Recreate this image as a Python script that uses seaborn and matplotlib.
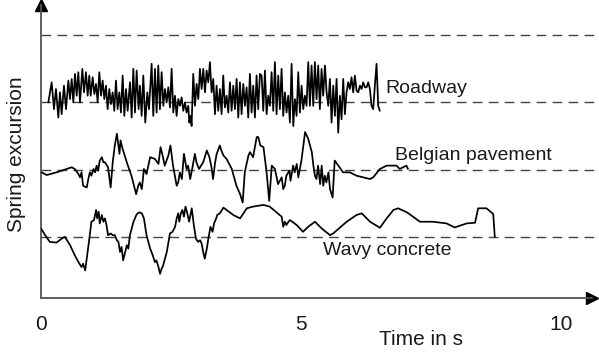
import numpy as np
import pandas as pd
import matplotlib
matplotlib.use("Agg")
import matplotlib.pyplot as plt
import seaborn as sns

# ---------------- data ----------------
# baselines (dashed reference levels) of each trace
baselines = {"Wavy concrete": 200, "Belgian pavement": 400, "Roadway": 600, "top": 800}

road_t = [0.141, 0.205, 0.250, 0.288, 0.333, 0.365, 0.397, 0.442, 0.481, 0.526, 0.558, 0.590,
          0.622, 0.654, 0.686, 0.718, 0.750, 0.795, 0.827, 0.865, 0.897, 0.929, 0.955, 0.994,
          1.026, 1.058, 1.090, 1.122, 1.154, 1.186, 1.218, 1.250, 1.282, 1.314, 1.346, 1.378,
          1.410, 1.442, 1.474, 1.506, 1.538, 1.571, 1.603, 1.635, 1.667, 1.712, 1.744, 1.776,
          1.808, 1.840, 1.878, 1.904, 1.936, 1.968, 2.006, 2.045, 2.077,
          2.128, 2.160, 2.192, 2.224, 2.256, 2.288, 2.321, 2.353, 2.385, 2.417, 2.449, 2.481,
          2.513, 2.545, 2.577, 2.609, 2.641, 2.673, 2.705, 2.737, 2.769, 2.801, 2.833, 2.853,
          2.878, 2.897, 2.929, 2.962, 2.994, 3.026, 3.058, 3.090, 3.122, 3.154, 3.186, 3.218,
          3.250, 3.282, 3.314, 3.346, 3.378, 3.410, 3.442, 3.474, 3.506, 3.538, 3.571, 3.603,
          3.635, 3.667, 3.699, 3.731, 3.763, 3.795, 3.827, 3.859, 3.891, 3.923, 3.955, 3.987,
          4.019, 4.051, 4.083, 4.115, 4.147, 4.179, 4.212,
          4.244, 4.276, 4.308, 4.340, 4.372, 4.404, 4.436, 4.468, 4.500, 4.532, 4.564, 4.596,
          4.628, 4.660, 4.692, 4.724, 4.756, 4.788, 4.821, 4.853, 4.885, 4.917, 4.949, 4.981,
          5.013, 5.045, 5.077, 5.109, 5.141, 5.173, 5.205, 5.237, 5.269, 5.301, 5.333, 5.365,
          5.397, 5.429, 5.462, 5.494, 5.526, 5.558, 5.590, 5.622, 5.654, 5.686, 5.718, 5.750,
          5.782, 5.814, 5.846, 5.878, 5.910, 5.942, 5.974, 6.006, 6.038, 6.071, 6.103, 6.135,
          6.167, 6.199, 6.231, 6.263, 6.295, 6.327, 6.359, 6.391, 6.423, 6.455, 6.487, 6.519]
road_v = [0, 60, -20, 40, -45, 30, -35, 50, -20, 65, 10, 70,
          0, 85, 20, 90, 0, 100, 30, 90, 20, 80, 20, 75,
          25, 55, 0, 90, 20, 65, 10, 50, -20, 40, -5, 30,
          -25, 65, -20, 30, -30, 80, -40, 40, -25, 60, -45, 100,
          -30, 95, -20, 50, -40, 80, -60, 30, -20,
          115, -40, 100, -30, 110, -20, 90, -10, 40, 0, 45, -15,
          100, -30, 20, -40, 10, -10, 15, -25, 0, -30, -10, -60,
          -40, -70, 85, -10, 55, 10, 100, 40, 100, 30, 95, 60,
          120, 30, 70, -35, 50, -25, 40, -35, 80, -15, 20, -30,
          60, -25, 50, -20, 70, -45, 60, -35, 55, -10, 45, -45,
          85, -30, 50, -45, 80, -20, 85,
          80, -25, 95, -35, 20, -10, 90, -25, 120, -35, 80, -20,
          100, -40, 30, -30, 20, -60, 115, -70, 10, -40, 90, -30,
          50, -20, 20, -10, 120, -10, 110, -10, 120, 10, 110, -20,
          100, 20, 110, 30, -10, 70, -60, 50, -40, 70, -90, 20,
          -50, 70, -35, 30, 60, 40, 75, 30, 80, 35, 30, 50,
          40, 60, 45, 45, 60, 40, -10, -20, 50, 115, -10, -25]

belg_t = [0.01, 0.11, 0.30, 0.49, 0.59, 0.65, 0.72, 0.75, 0.78, 0.81, 0.88, 0.91, 0.94, 0.97,
          1.01, 1.04, 1.07, 1.10, 1.13, 1.17, 1.20, 1.23, 1.29, 1.34, 1.38, 1.42, 1.46, 1.49,
          1.51, 1.53, 1.57, 1.65, 1.74, 1.83, 1.87, 1.90, 1.94, 1.98, 2.03, 2.10, 2.19, 2.26,
          2.30, 2.34, 2.38, 2.45, 2.49, 2.54, 2.61, 2.64, 2.67, 2.71, 2.75, 2.80, 2.83, 2.87,
          2.92, 2.96, 2.99, 3.04, 3.12, 3.19, 3.24, 3.28, 3.31, 3.35, 3.38, 3.44, 3.47, 3.51,
          3.57, 3.67, 3.76, 3.83, 3.88, 3.92, 3.99, 4.02, 4.08, 4.15, 4.18, 4.22, 4.28, 4.34,
          4.39, 4.44, 4.50, 4.56, 4.63, 4.66, 4.69, 4.72, 4.78, 4.80, 4.85, 4.88, 4.92, 4.95,
          5.01, 5.08, 5.14, 5.21, 5.24, 5.27, 5.30, 5.33, 5.37, 5.40, 5.43, 5.46, 5.49, 5.53,
          5.56, 5.61, 5.65, 5.72, 5.81, 5.94, 6.07, 6.20, 6.33, 6.39, 6.52, 6.65, 6.84, 6.90,
          7.03, 7.06]
belg_v = [-8, -16, -8, 2, 7, 2, -13, -23, -8, -48, -53, -28, -8, -18,
          2, -8, 12, -3, 27, 37, 22, 22, 7, -53, 22, 72, 107, 72,
          47, 87, 62, 22, -18, -73, -48, -38, -58, 2, -13, 37, 32, 17,
          67, 42, 12, 42, 72, 12, -48, -38, -8, -28, 47, 2, 12, -28,
          12, 47, 22, 2, 22, 57, 37, 7, -28, 22, 47, 72, 57, 42,
          32, 2, -48, -73, -98, -8, 42, 52, 37, 97, 97, 72, 67, -8,
          -93, 12, 2, -43, -23, -58, -48, -18, -3, -33, 12, -8, 17, -23,
          27, 112, 92, 52, 12, -18, -28, 12, -43, 12, -48, -18, -38, -8,
          -58, -83, 27, 12, -8, -8, -18, -23, -28, -23, 2, 12, 12, 2,
          12, 2]

wavy_t = [0.00, 0.08, 0.17, 0.30, 0.40, 0.46, 0.56, 0.65, 0.72, 0.78, 0.81, 0.85, 0.88, 0.93,
          0.97, 1.02, 1.06, 1.08, 1.11, 1.13, 1.17, 1.20, 1.23, 1.26, 1.29, 1.34, 1.38, 1.42,
          1.46, 1.49, 1.52, 1.55, 1.58, 1.62, 1.65, 1.68, 1.71, 1.78, 1.84, 1.89, 1.94, 1.98,
          2.03, 2.10, 2.15, 2.19, 2.22, 2.26, 2.29, 2.32, 2.35, 2.42, 2.48, 2.53, 2.58, 2.61,
          2.64, 2.66, 2.69, 2.72, 2.75, 2.78, 2.81, 2.85, 2.90, 2.94, 2.98, 3.02, 3.06, 3.09,
          3.12, 3.15, 3.19, 3.22, 3.26, 3.30, 3.33, 3.37, 3.39, 3.44, 3.51, 3.57, 3.70, 3.83,
          3.96, 4.08, 4.28, 4.40, 4.53, 4.63, 4.66, 4.69, 4.72, 4.76, 4.79, 4.92, 5.04, 5.14,
          5.27, 5.40, 5.56, 5.62, 5.88, 6.07, 6.17, 6.33, 6.52, 6.65, 6.78, 6.87, 7.04, 7.29,
          7.54, 7.80, 7.96, 8.19, 8.35, 8.41, 8.57, 8.70, 8.73]
wavy_v = [25, 5, -15, -17, -5, 0, -25, -55, -75, -90, -80, -100, -65, -5,
          45, 50, 80, 55, 75, 40, 65, 45, 55, 35, 5, 10, 5, 5,
          -10, -15, -45, -30, -70, -45, -25, -35, 5, 45, 67, 73, 70, 55,
          5, -35, -55, -75, -70, -90, -110, -95, -85, -45, 10, 15, 30, 55,
          70, 45, 70, 80, 60, 90, 73, 45, 85, 35, -5, -15, -10, -20,
          -45, -65, -35, -5, 30, 15, 40, 55, 65, 70, 87, 80, 65, 55,
          85, 90, 95, 90, 73, 60, 30, 45, 35, 45, 50, 35, 15, 30,
          45, 25, 5, 10, 45, 65, 70, 45, 27, 55, 80, 85, 73, 45,
          45, 40, 28, 40, 42, 85, 85, 68, 0]

labels = ["Roadway", "Belgian pavement", "Wavy concrete"]
label_pos = {"Roadway": (6.63, 641), "Belgian pavement": (6.81, 441), "Wavy concrete": (5.42, 159)}
x_ticks = list(range(0, 11))
x_ticklabels = ["0", "", "", "", "", "5", "", "", "", "", "10"]

# ---------------- build frames ----------------
frames = []
for name, t, v in [("Roadway", road_t, road_v),
                   ("Belgian pavement", belg_t, belg_v),
                   ("Wavy concrete", wavy_t, wavy_v)]:
    frames.append(pd.DataFrame({"t": t, "y": np.array(v) + baselines[name], "road": name}))
df = pd.concat(frames, ignore_index=True)

# ---------------- figure ----------------
sns.set_theme(style="white")
plt.rcParams["font.family"] = ["Liberation Sans", "DejaVu Sans"]

W, H = 599, 354
fig = plt.figure(figsize=(W / 100, H / 100), dpi=100)
ax = fig.add_axes([41 / W, (H - 298) / H, (592 - 41) / W, (298 - 5) / H])

axis_col = "#555555"
txt_col = "#1a1a1a"
for lvl in baselines.values():
    ax.plot([0, 1.013], [lvl, lvl], transform=ax.get_yaxis_transform(), color="#444444",
            lw=1.0, dashes=(7, 4.5), clip_on=False, zorder=1)

for name in labels:
    sub = df[df["road"] == name]
    sns.lineplot(data=sub, x="t", y="y", ax=ax, color="black", lw=1.25,
                 estimator=None, sort=False, legend=False, zorder=3)

for name in labels:
    x, y = label_pos[name]
    ax.text(x, y, name, fontsize=14, ha="left", va="center", color=txt_col)

ax.set_xlim(0, 10.6)
ax.set_ylim(18, 890)
ax.set_xticks(x_ticks)
ax.set_xticklabels(x_ticklabels, fontsize=15, color=txt_col)
ax.set_yticks([])
ax.tick_params(axis="x", direction="in", length=5, width=1, color=axis_col, pad=12)
for s in ["top", "right"]:
    ax.spines[s].set_visible(False)
for s in ["left", "bottom"]:
    ax.spines[s].set_color(axis_col)
    ax.spines[s].set_linewidth(1.3)

# arrow heads
ax.plot([1], [0], marker=">", ms=8, color="black", transform=ax.transAxes, clip_on=False)
ax.plot([0], [1], marker="^", ms=8, color="black", transform=ax.transAxes, clip_on=False)

ax.set_xlabel("Time in s", fontsize=15, color=txt_col)
ax.xaxis.set_label_coords(0.69, -0.11)
ax.set_ylabel("Spring excursion", fontsize=15, color=txt_col)
ax.yaxis.set_label_coords(-0.028, 0.49)

fig.savefig("out.png", dpi=100)
